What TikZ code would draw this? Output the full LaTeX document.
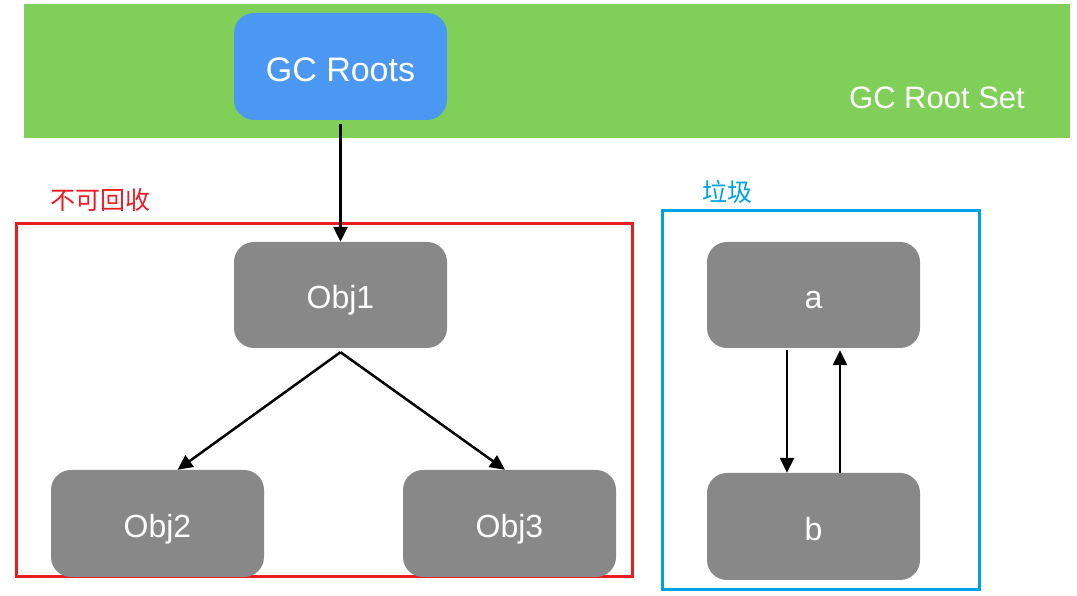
\documentclass[tikz,border=0pt]{standalone}
\usepackage{fontspec}
\setmainfont{Liberation Sans}
\newfontfamily\cjk{Noto Sans CJK SC}
\usetikzlibrary{arrows.meta,calc}
\definecolor{bandgreen}{RGB}{128,207,88}
\definecolor{rootblue}{RGB}{74,152,242}
\definecolor{objgray}{RGB}{136,136,136}
\definecolor{boxred}{RGB}{236,28,36}
\definecolor{boxblue}{RGB}{0,160,233}
\tikzset{
  objbox/.style={fill=objgray, rounded corners=20pt, minimum width=213pt, minimum height=106pt, inner sep=0pt, text=white, font=\fontsize{32}{36}\selectfont, text height=28pt, text depth=0pt},
  rootbox/.style={fill=rootblue, rounded corners=20pt, minimum width=213pt, minimum height=107pt, inner sep=0pt, text=white, font=\fontsize{34}{38}\selectfont, text height=30pt, text depth=0pt},
  link/.style={line width=2.5pt, -{Triangle[length=15pt,width=14pt]}},
  cjklabel/.style={font=\cjk\fontsize{25}{29}\selectfont, inner sep=0pt}
}
\begin{document}
\begin{tikzpicture}[x=1pt,y=1pt]
\useasboundingbox (0,0) rectangle (1077,596);
% green band
\fill[bandgreen] (24,458) rectangle (1070,592);
\node[text=white, font=\fontsize{31}{35}\selectfont, inner sep=0pt] (rootset) at (937,498) {GC Root Set};
\node[rootbox] (gcroots) at (340.5,529.5) {GC Roots};
% red group
\draw[boxred, line width=3pt] (16,19) rectangle (632,372);
\node[cjklabel, text=boxred] (keep) at (100,396) {不可回收};
\node[objbox] (obj1) at (340.5,301) {Obj1};
\node[objbox, minimum height=107pt] (obj2) at (157.5,72.5) {Obj2};
\node[objbox, minimum height=107pt] (obj3) at (509.5,72.5) {Obj3};
% blue group
\draw[boxblue, line width=3pt] (662,6) rectangle (979,385);
\node[cjklabel, text=boxblue] (garbage) at (727,404) {垃圾};
\node[objbox] (a) at (813.5,301) {a};
\node[objbox, minimum height=107pt] (b) at (813.5,69.5) {b};
% connectors
\draw[link] ($(gcroots.south)+(0,-4)$) -- (obj1.north);
\draw[link] ($(obj1.south)+(0,-4)$) -- ($(obj2.north)+(20,0)$);
\draw[link] ($(obj1.south)+(0,-4)$) -- ($(obj3.north)+(-4.5,0)$);
\draw[link] ($(a.south)+(-26.5,-2)$) -- ($(b.north)+(-26.5,0)$);
\draw[link] ($(b.north)+(26.5,0)$) -- ($(a.south)+(26.5,-2)$);
\end{tikzpicture}
\end{document}
